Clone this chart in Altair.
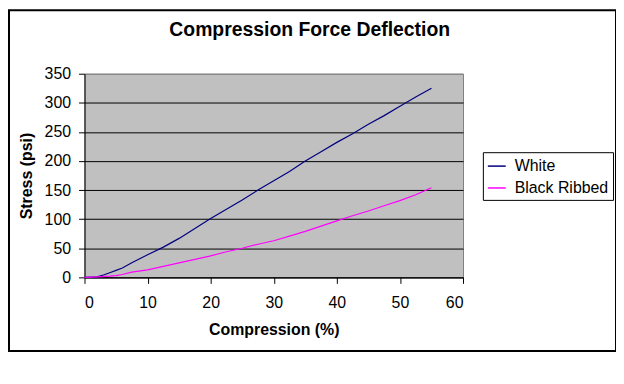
import altair as alt
import pandas as pd

# ---- data ----
series_names = ["White", "Black Ribbed"]
series_colors = ["#000080", "#FF00FF"]

white_compression = [0, 1, 2, 3, 4, 5, 6, 7.5, 10, 12.5, 15, 17.5, 20, 22.5, 25,
                     27.5, 30, 32.5, 35, 37.5, 40, 42.5, 45, 47.5, 50, 52.5, 55]
white_stress = [0, 0.5, 1, 4, 8, 12, 16, 25, 39, 52, 67, 84, 101, 117, 133,
                150, 166, 182, 200, 216, 232, 247, 263, 278, 294, 310, 325]

black_compression = [0, 2, 4, 5, 6, 7.5, 10, 12.5, 15, 17.5, 20, 22.5, 25,
                     27.5, 30, 32.5, 35, 37.5, 40, 42.5, 45, 47.5, 50, 52.5, 55]
black_stress = [0, 1, 2, 3, 5, 9, 13, 19, 25, 31, 37, 44, 50,
                57, 63, 71, 79, 88, 97, 106, 114, 123, 132, 142, 154]

x_ticks = [0, 10, 20, 30, 40, 50, 60]
y_ticks = [0, 50, 100, 150, 200, 250, 300, 350]

chart_title = "Compression Force Deflection"
x_title = "Compression (%)"
y_title = "Stress (psi)"

FONT = "Liberation Sans"
W, H = 381, 205

df = pd.concat([
    pd.DataFrame({"compression": white_compression, "stress": white_stress,
                  "series": series_names[0]}),
    pd.DataFrame({"compression": black_compression, "stress": black_stress,
                  "series": series_names[1]}),
])

lines = alt.Chart(df).mark_line(strokeWidth=1.2).encode(
    x=alt.X("compression:Q",
            scale=alt.Scale(domain=[0, 60], nice=False),
            axis=alt.Axis(values=x_ticks, title=x_title, grid=False,
                          tickSize=6, labelPadding=11,
                          titleX=W / 2, titleY=57, titleBaseline="alphabetic",
                          titleAnchor="middle")),
    y=alt.Y("stress:Q",
            scale=alt.Scale(domain=[0, 350], nice=False),
            axis=alt.Axis(values=y_ticks, title=y_title, grid=True,
                          gridColor={"expr": "datum.value == 350 ? '#808080' : '#000000'"},
                          tickSize=6, labelPadding=8,
                          titleX=-58, titleY=H / 2, titleBaseline="middle",
                          titleAnchor="middle")),
    color=alt.Color("series:N",
                    scale=alt.Scale(domain=series_names, range=series_colors),
                    sort=series_names,
                    legend=alt.Legend(title=None, orient="none",
                                      legendX=401, legendY=79,
                                      strokeColor="black", fillColor="white",
                                      padding=4, rowPadding=4,
                                      symbolType="stroke", symbolSize=324,
                                      symbolStrokeWidth=1.5,
                                      labelFont=FONT, labelFontSize=16,
                                      labelColor="black", labelOffset=8)),
)

border = alt.Chart(pd.DataFrame({"a": [0]})).mark_rect(
    fillOpacity=0, stroke="black", strokeWidth=2
).encode(
    x=alt.value(-76), x2=alt.value(535),
    y=alt.value(-64), y2=alt.value(279),
)

title_mark = alt.Chart(pd.DataFrame({"t": [chart_title]})).mark_text(
    font=FONT, fontSize=19.5, fontWeight="bold", align="center",
    baseline="alphabetic", color="black"
).encode(
    x=alt.value(226.7), y=alt.value(-38), text="t:N"
)

chart = alt.layer(border, lines, title_mark).properties(
    width=W, height=H,
    autosize=alt.AutoSizeParams(type="none"),
    padding={"left": 77, "top": 65, "right": 154, "bottom": 80},
    background="white",
).configure_view(
    fill="#C0C0C0", stroke="#808080", strokeWidth=1
).configure_axis(
    labelFont=FONT, labelFontSize=16, labelColor="black",
    titleFont=FONT, titleFontSize=16, titleFontWeight="bold", titleColor="black",
    domainColor="black", tickColor="black", domainWidth=1, tickWidth=1,
    gridWidth=1, gridOpacity=1,
)

chart.save("out.html", embed_options={"renderer": "svg", "actions": False})
